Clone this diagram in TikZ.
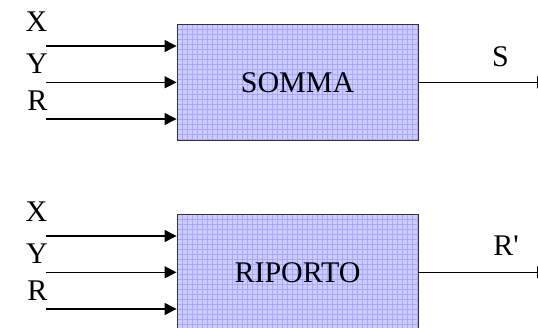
\documentclass[tikz,border=0pt]{standalone}
\usepackage{fontspec}
\setmainfont{Liberation Serif}
\usetikzlibrary{arrows.meta}

\definecolor{boxfill}{HTML}{CCCCFF}
\definecolor{boxgrid}{HTML}{A6A6FA}

\tikzset{
  block/.style={draw=black!80, line width=0.9pt, fill=boxfill,
    minimum width=241pt, minimum height=116pt, inner sep=0pt,
    path picture={
      \foreach \k in {1,...,48}
        \draw[boxgrid, line width=0.4pt]
          ([xshift=\k*5pt]path picture bounding box.north west) --
          ([xshift=\k*5pt]path picture bounding box.south west);
      \foreach \k in {1,...,23}
        \draw[boxgrid, line width=0.4pt]
          ([yshift=-\k*5pt]path picture bounding box.north west) --
          ([yshift=-\k*5pt]path picture bounding box.north east);
    }},
  signal/.style={anchor=base, inner sep=0pt},
  wire/.style={line width=1.3pt, -{Triangle[length=12pt, width=12pt]}}
}

\begin{document}
\begin{tikzpicture}[x=1pt, y=-1pt, font=\fontsize{30}{32}\selectfont]
\useasboundingbox (0,0) rectangle (538,327);

% adder: sum
\node[block] (somma) at (297.5,82.3) {SOMMA};
\node[signal, anchor=base east] (xa) at (47.5,31) {X};
\node[signal, anchor=base east] (ya) at (48,73) {Y};
\node[signal, anchor=base east] (ra) at (47.5,110) {R};
\node[signal] (s) at (500.5,66.7) {S};
\coordinate (xain) at (46,46);
\coordinate (yain) at (46,82.3);
\coordinate (rain) at (46,119);
\coordinate (sout) at (549,82.3);

\draw[wire] (xain) -- (xain -| somma.west);
\draw[wire] (yain) -- (yain -| somma.west);
\draw[wire] (rain) -- (rain -| somma.west);
\draw[wire] (somma.east) -- (sout);

% adder: carry
\node[block] (riporto) at (297.5,272.3) {RIPORTO};
\node[signal, anchor=base east] (xb) at (47.5,221) {X};
\node[signal, anchor=base east] (yb) at (48,263) {Y};
\node[signal, anchor=base east] (rb) at (47.5,300) {R};
\node[signal] (rp) at (506,255) {R\textquotesingle};
\coordinate (xbin) at (46,236);
\coordinate (ybin) at (46,272.3);
\coordinate (rbin) at (46,309);
\coordinate (rpout) at (549,272.3);

\draw[wire] (xbin) -- (xbin -| riporto.west);
\draw[wire] (ybin) -- (ybin -| riporto.west);
\draw[wire] (rbin) -- (rbin -| riporto.west);
\draw[wire] (riporto.east) -- (rpout);
\end{tikzpicture}
\end{document}
